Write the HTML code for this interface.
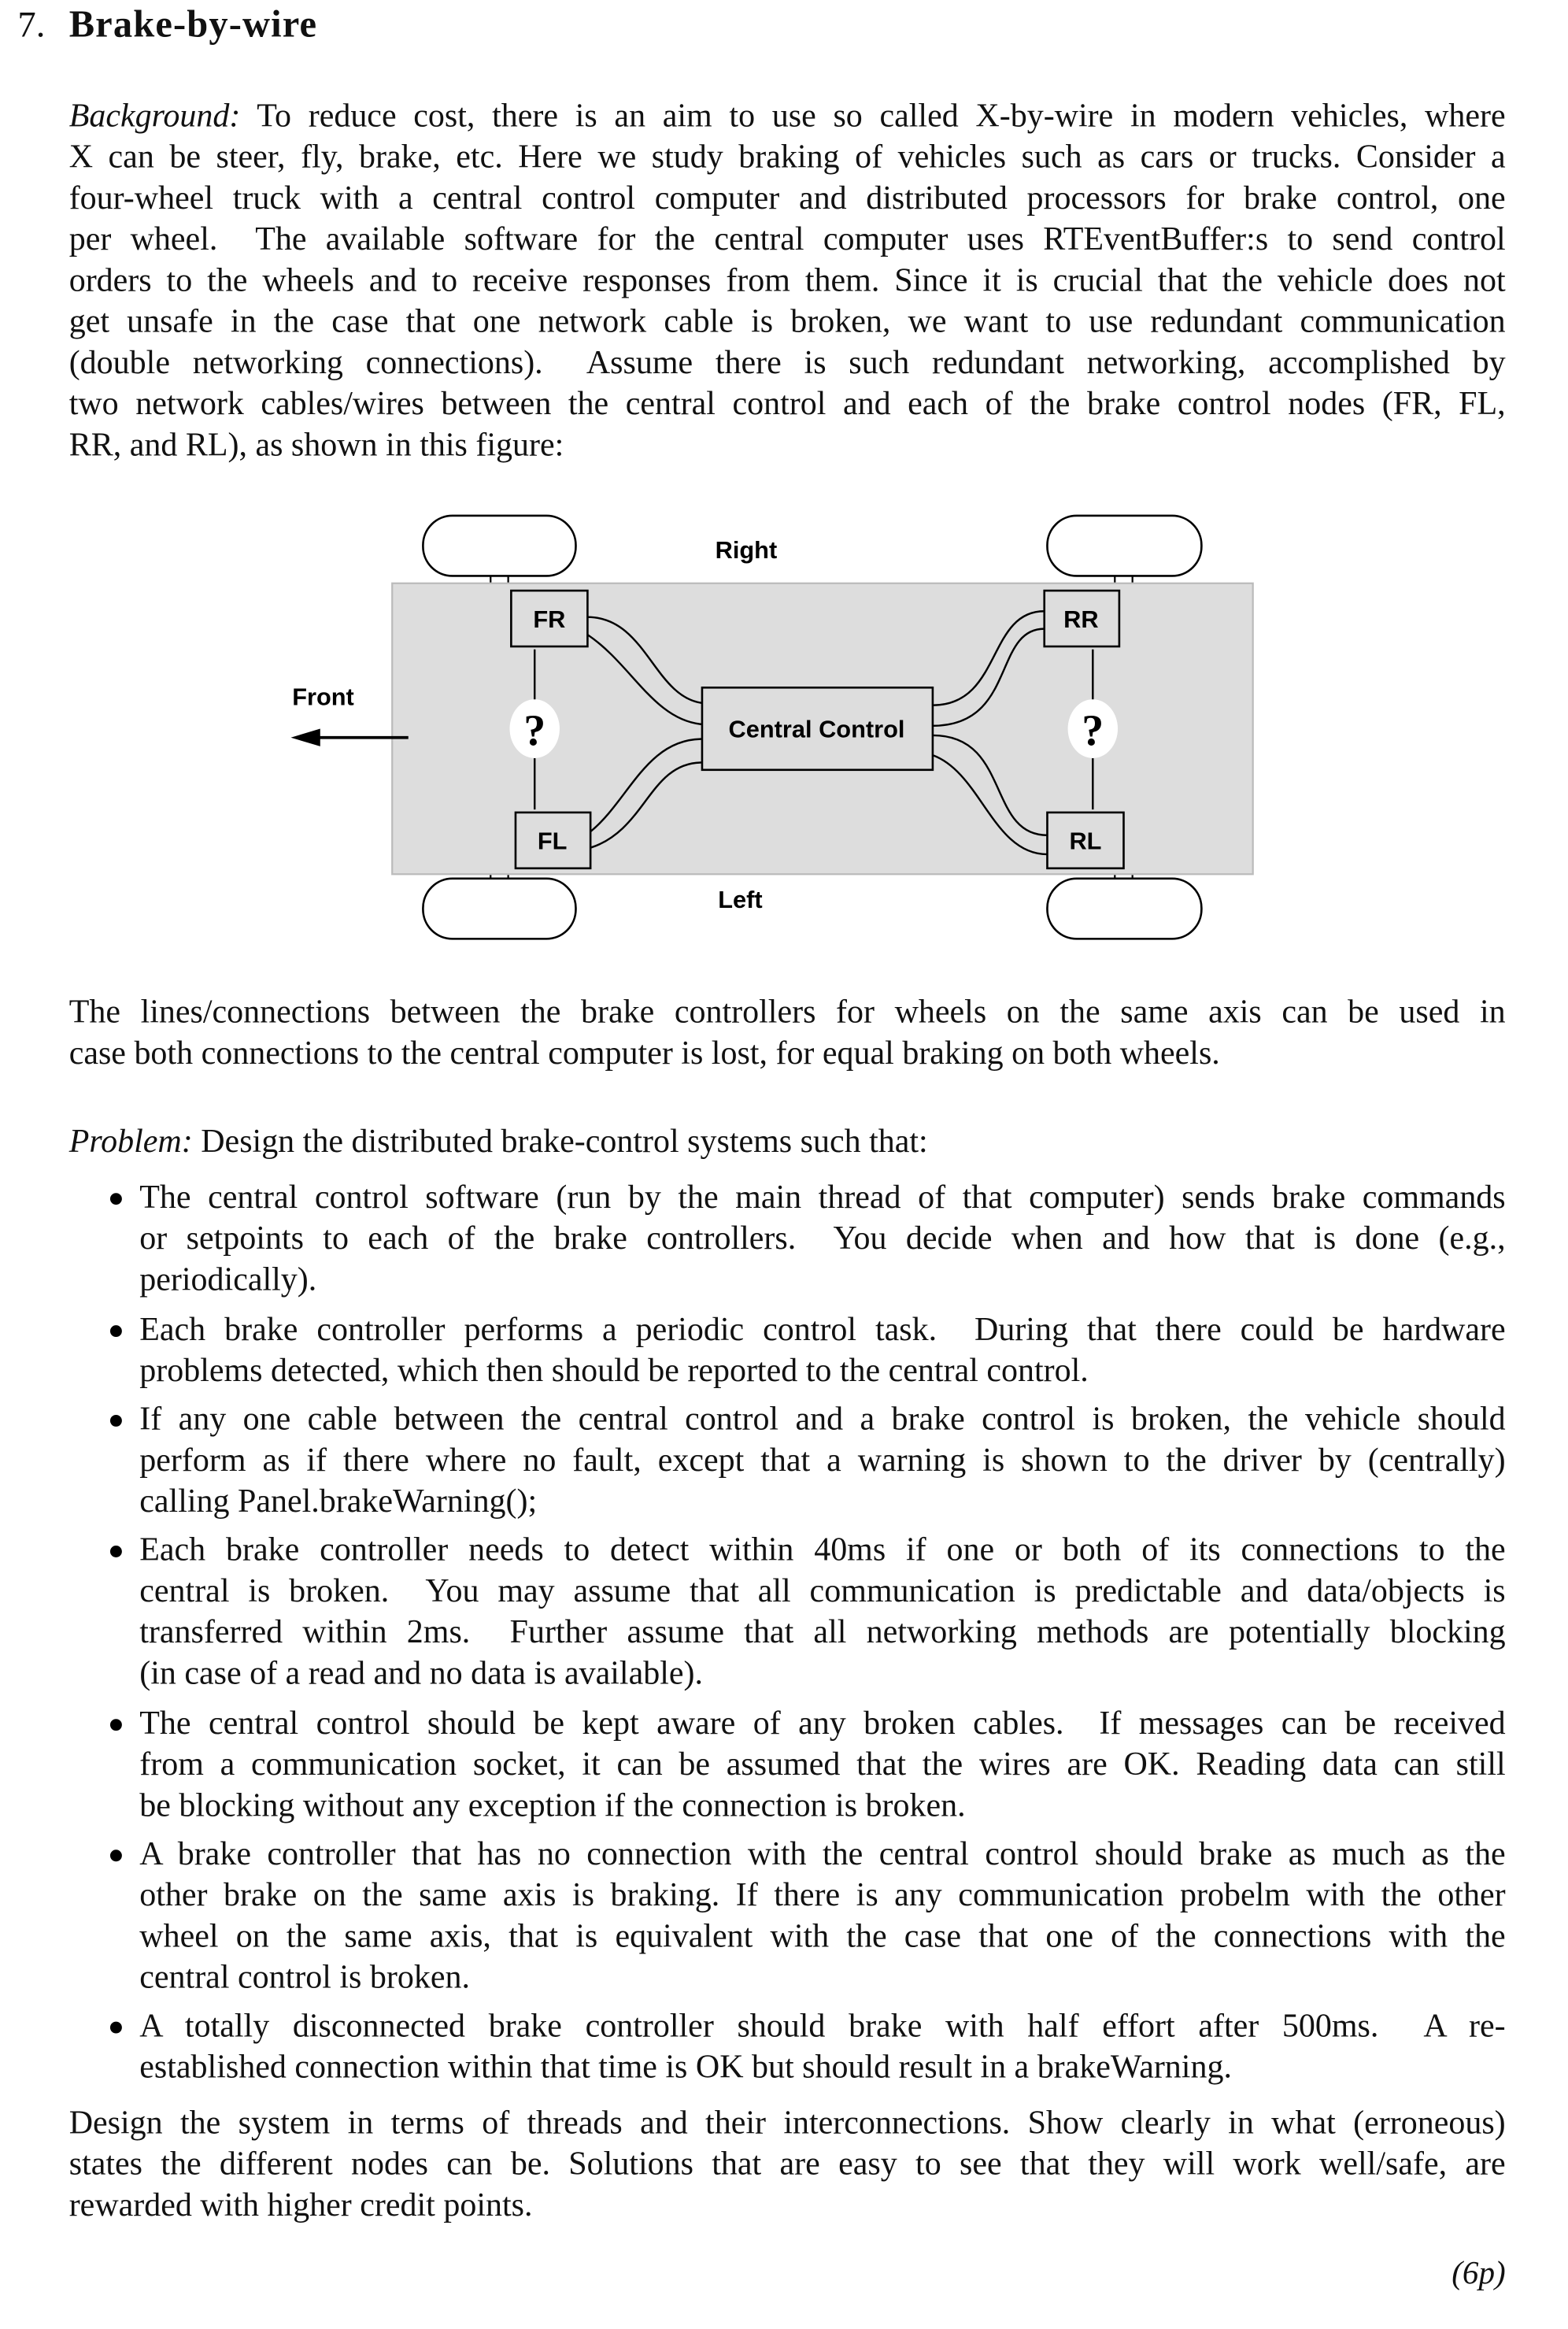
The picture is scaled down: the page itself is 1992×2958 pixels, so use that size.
<!DOCTYPE html>
<html><head><meta charset="utf-8"><style>
html,body{margin:0;padding:0;background:#fff;}
body{width:1992px;height:2924px;overflow:hidden;position:relative;}
#w{position:absolute;left:0;top:0;width:1080px;height:1585px;transform:scale(1.866);transform-origin:0 0;font-family:"Liberation Serif",serif;color:#111;}
.l{position:absolute;left:47px;width:978px;height:28px;line-height:28px;font-size:22.5px;white-space:nowrap;text-align:justify;text-align-last:justify;}
.l.b{left:95px;width:930px;}
.l.e{text-align-last:left;}
.dot{position:absolute;left:75px;width:8px;height:8px;border-radius:50%;background:#000;margin-top:11px;}
i{font-style:italic;}
</style></head><body><div id="w">
<div style="position:absolute;left:12px;top:3px;font-size:25px;line-height:30px;">7.</div>
<div style="position:absolute;left:47px;top:2px;font-size:26px;line-height:30px;font-weight:bold;letter-spacing:0.6px;">Brake-by-wire</div>

<div class="l" style="top:65px"><i>Background:</i> To reduce cost, there is an aim to use so called X-by-wire in modern vehicles, where</div>
<div class="l" style="top:93px">X can be steer, fly, brake, etc. Here we study braking of vehicles such as cars or trucks. Consider a</div>
<div class="l" style="top:121px">four-wheel truck with a central control computer and distributed processors for brake control, one</div>
<div class="l" style="top:149px">per wheel.&nbsp; The available software for the central computer uses RTEventBuffer:s to send control</div>
<div class="l" style="top:177px">orders to the wheels and to receive responses from them. Since it is crucial that the vehicle does not</div>
<div class="l" style="top:205px">get unsafe in the case that one network cable is broken, we want to use redundant communication</div>
<div class="l" style="top:233px">(double networking connections).&nbsp; Assume there is such redundant networking, accomplished by</div>
<div class="l" style="top:261px">two network cables/wires between the central control and each of the brake control nodes (FR, FL,</div>
<div class="l e" style="top:289px">RR, and RL), as shown in this figure:</div>

<svg style="position:absolute;left:0;top:0" width="1080" height="700" viewBox="0 0 1080 700" font-family="Liberation Sans, sans-serif" font-weight="bold" font-size="16.5">
<g fill="#fff" stroke="#000" stroke-width="1.4">
<rect x="288" y="351" width="104" height="41" rx="20"/>
<rect x="713" y="351" width="105" height="41" rx="20"/>
<rect x="288" y="598" width="104" height="41" rx="20"/>
<rect x="713" y="598" width="105" height="41" rx="20"/>
</g>
<g stroke="#000" stroke-width="1.2">
<line x1="334" y1="392" x2="334" y2="398"/><line x1="346" y1="392" x2="346" y2="398"/>
<line x1="759" y1="392" x2="759" y2="398"/><line x1="771" y1="392" x2="771" y2="398"/>
<line x1="334" y1="594" x2="334" y2="598"/><line x1="346" y1="594" x2="346" y2="598"/>
<line x1="759" y1="594" x2="759" y2="598"/><line x1="771" y1="594" x2="771" y2="598"/>
</g>
<rect x="267" y="397" width="586" height="198" fill="#dddddd" stroke="#bbb" stroke-width="1.2"/>
<g fill="#ddd" stroke="#000" stroke-width="1.4">
<rect x="348" y="402" width="52" height="38"/>
<rect x="351" y="553" width="51" height="38"/>
<rect x="711" y="402" width="51" height="38"/>
<rect x="713" y="553" width="52" height="38"/>
<rect x="478" y="468" width="157" height="56"/>
</g>
<g stroke="#000" stroke-width="1.3" fill="none">
<line x1="364" y1="442" x2="364" y2="477"/><line x1="364" y1="516" x2="364" y2="551"/>
<line x1="744" y1="442" x2="744" y2="477"/><line x1="744" y1="516" x2="744" y2="551"/>
<path d="M400,420 C440,420 445,474 478,478.5"/>
<path d="M400,432 C430,452 445,490 478,493"/>
<path d="M402,566 C428,545 440,503 478,503"/>
<path d="M402,577 C440,565 442,519 478,519"/>
<path d="M635,480 C682,480 672,416 711,416"/>
<path d="M635,494 C692,494 676,428 711,428"/>
<path d="M635,500.5 C688,500.5 672,568.5 713,568.5"/>
<path d="M635,514 C668,526 676,581.5 713,581.5"/>
<line x1="278" y1="502" x2="212" y2="502" stroke-width="2"/>
</g>
<polygon points="198,502 218,496 218,508" fill="#000"/>
<ellipse cx="364" cy="496" rx="17" ry="20" fill="#fff"/>
<ellipse cx="744" cy="496" rx="17" ry="20" fill="#fff"/>
<text x="364" y="507" text-anchor="middle" font-family="Liberation Serif, serif" font-weight="bold" font-size="30">?</text>
<text x="744" y="507" text-anchor="middle" font-family="Liberation Serif, serif" font-weight="bold" font-size="30">?</text>
<text x="374" y="427" text-anchor="middle">FR</text>
<text x="376" y="578" text-anchor="middle">FL</text>
<text x="736" y="427" text-anchor="middle">RR</text>
<text x="739" y="578" text-anchor="middle">RL</text>
<text x="556" y="502" text-anchor="middle">Central Control</text>
<text x="508" y="380" text-anchor="middle">Right</text>
<text x="504" y="618" text-anchor="middle">Left</text>
<text x="220" y="480" text-anchor="middle">Front</text>
</svg>

<div class="l" style="top:675px">The lines/connections between the brake controllers for wheels on the same axis can be used in</div>
<div class="l e" style="top:703px">case both connections to the central computer is lost, for equal braking on both wheels.</div>

<div class="l e" style="top:763px"><i>Problem:</i> Design the distributed brake-control systems such that:</div>

<div class="dot" style="top:801px"></div>
<div class="l b" style="top:801px">The central control software (run by the main thread of that computer) sends brake commands</div>
<div class="l b" style="top:829px">or setpoints to each of the brake controllers.&nbsp; You decide when and how that is done (e.g.,</div>
<div class="l b e" style="top:857px">periodically).</div>

<div class="dot" style="top:891px"></div>
<div class="l b" style="top:891px">Each brake controller performs a periodic control task.&nbsp; During that there could be hardware</div>
<div class="l b e" style="top:919px">problems detected, which then should be reported to the central control.</div>

<div class="dot" style="top:952px"></div>
<div class="l b" style="top:952px">If any one cable between the central control and a brake control is broken, the vehicle should</div>
<div class="l b" style="top:980px">perform as if there where no fault, except that a warning is shown to the driver by (centrally)</div>
<div class="l b e" style="top:1008px">calling Panel.brakeWarning();</div>

<div class="dot" style="top:1041px"></div>
<div class="l b" style="top:1041px">Each brake controller needs to detect within 40ms if one or both of its connections to the</div>
<div class="l b" style="top:1069px">central is broken.&nbsp; You may assume that all communication is predictable and data/objects is</div>
<div class="l b" style="top:1097px">transferred within 2ms.&nbsp; Further assume that all networking methods are potentially blocking</div>
<div class="l b e" style="top:1125px">(in case of a read and no data is available).</div>

<div class="dot" style="top:1159px"></div>
<div class="l b" style="top:1159px">The central control should be kept aware of any broken cables.&nbsp; If messages can be received</div>
<div class="l b" style="top:1187px">from a communication socket, it can be assumed that the wires are OK. Reading data can still</div>
<div class="l b e" style="top:1215px">be blocking without any exception if the connection is broken.</div>

<div class="dot" style="top:1248px"></div>
<div class="l b" style="top:1248px">A brake controller that has no connection with the central control should brake as much as the</div>
<div class="l b" style="top:1276px">other brake on the same axis is braking. If there is any communication probelm with the other</div>
<div class="l b" style="top:1304px">wheel on the same axis, that is equivalent with the case that one of the connections with the</div>
<div class="l b e" style="top:1332px">central control is broken.</div>

<div class="dot" style="top:1365px"></div>
<div class="l b" style="top:1365px">A totally disconnected brake controller should brake with half effort after 500ms.&nbsp; A re-</div>
<div class="l b e" style="top:1393px">established connection within that time is OK but should result in a brakeWarning.</div>

<div class="l" style="top:1431px">Design the system in terms of threads and their interconnections. Show clearly in what (erroneous)</div>
<div class="l" style="top:1459px">states the different nodes can be. Solutions that are easy to see that they will work well/safe, are</div>
<div class="l e" style="top:1487px">rewarded with higher credit points.</div>

<div style="position:absolute;right:55px;top:1533px;font-size:22px;line-height:28px;font-style:italic;">(6p)</div>
</div></body></html>
